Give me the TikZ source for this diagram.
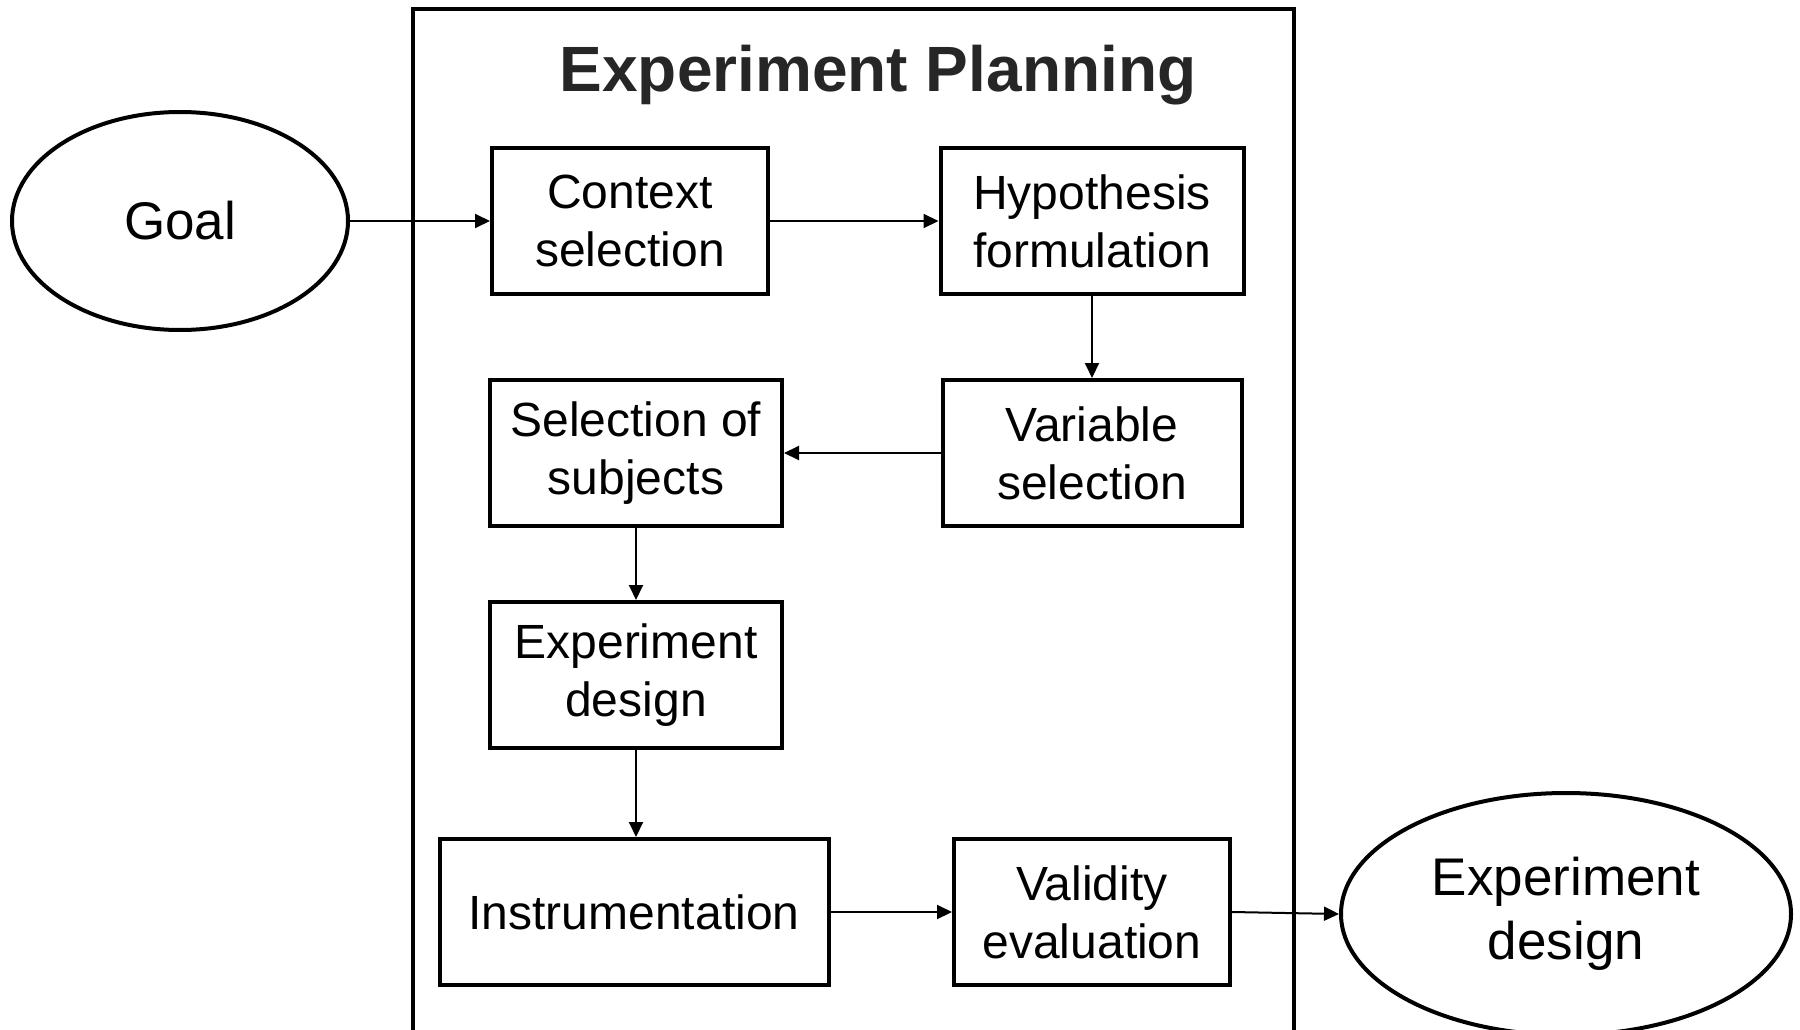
\documentclass[tikz,border=0pt]{standalone}
\usepackage{fontspec}
\setmainfont{Liberation Sans}
\usetikzlibrary{shapes.geometric,arrows.meta}
\definecolor{titlegray}{HTML}{262626}
\begin{document}
\begin{tikzpicture}[x=1pt,y=-1pt,
  procbox/.style={draw=black,line width=4pt,inner sep=0pt,align=center,
    minimum height=146pt,font=\fontsize{48}{58}\selectfont},
  term/.style={draw=black,line width=4pt,ellipse,inner sep=0pt,align=center,
    font=\fontsize{53}{64}\selectfont},
  conn/.style={line width=2pt,-{Triangle[length=15pt,width=14pt]}}]
\useasboundingbox (0,0) rectangle (1800,1030);
\clip (0,0) rectangle (1800,1030);
% frame
\coordinate (fbl) at (413,1045);
\coordinate (ftl) at (413,9);
\coordinate (ftr) at (1294,9);
\coordinate (fbr) at (1294,1045);
\draw[line width=4pt,line join=miter] (fbl) -- (ftl) -- (ftr) -- (fbr);
\node[font=\fontsize{64}{72}\selectfont\bfseries,text=titlegray] (title) at (878,75) {Experiment Planning};
% terminals
\node[term,minimum width=336pt,minimum height=218pt] (goal) at (180,221) {Goal};
\node[term,minimum width=450pt,minimum height=242pt] (out) at (1566,914) {Experiment\\design};
% boxes
\node[procbox,minimum width=276pt] (ctx) at (630,221) {Context\\selection};
\node[procbox,minimum width=303pt] (hyp) at (1092,221) {Hypothesis\\formulation};
\node[procbox,minimum width=299pt] (var) at (1092,453) {Variable\\selection};
\node[procbox,minimum width=292pt] (sub) at (636,453) {Selection of\\subjects};
\node[procbox,minimum width=292pt] (des) at (636,675) {Experiment\\design};
\node[procbox,minimum width=389pt] (ins) at (634,912) {Instrumentation};
\node[procbox,minimum width=276pt] (val) at (1092,912) {Validity\\evaluation};
% connectors
\draw[conn] (goal.east) -- (ctx.west);
\draw[conn] (ctx.east) -- (hyp.west);
\draw[conn] (hyp.south) -- (var.north);
\draw[conn] (var.west) -- (sub.east);
\draw[conn] (sub.south) -- (des.north);
\draw[conn] (des.south) -- (des.south |- ins.north);
\draw[conn] (ins.east) -- (val.west);
\draw[conn] (val.east) -- (out.west);
\end{tikzpicture}
\end{document}
